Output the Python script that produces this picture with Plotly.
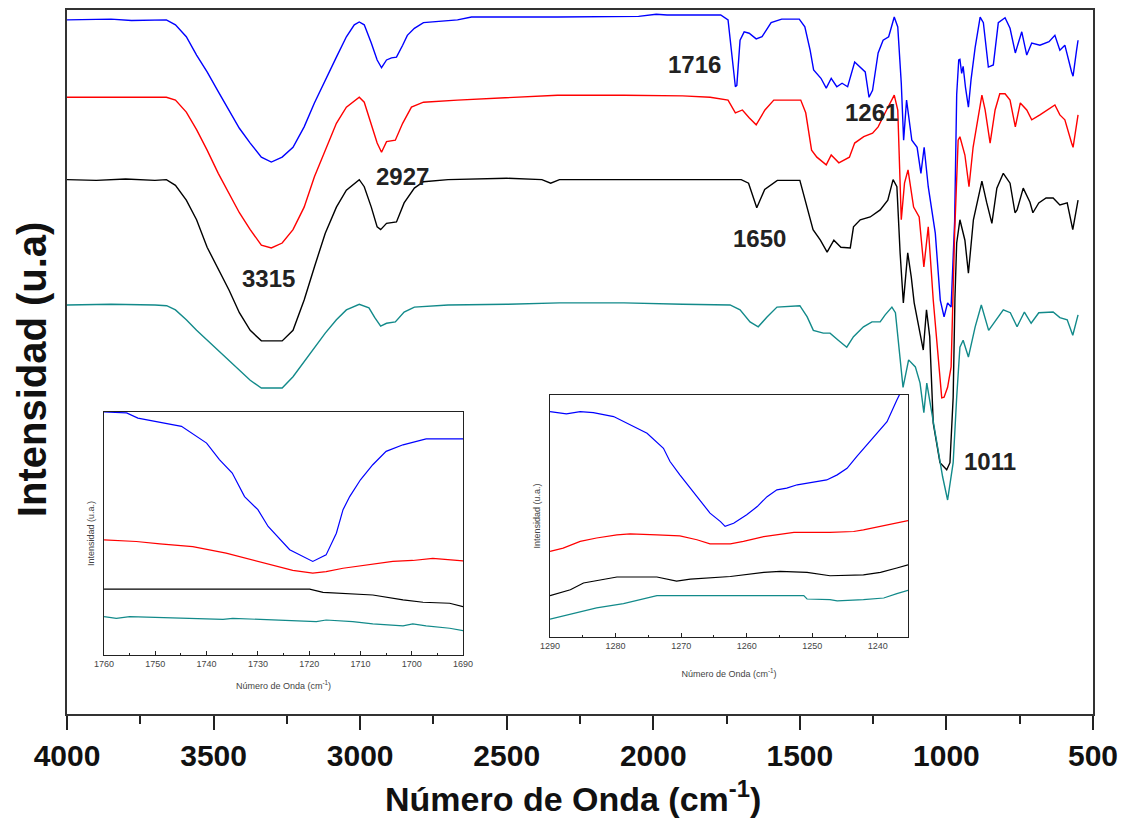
import plotly.graph_objects as go

# ---------------- main spectra (wavenumber, intensity a.u. incl. offset) ----------------
blue_x = [4000, 3900, 3850, 3780, 3700, 3661, 3630, 3593, 3558, 3522, 3484, 3447, 3412, 3375, 3337, 3303,
          3266, 3229, 3191, 3156, 3119, 3081, 3047, 3020, 3003, 2986, 2962, 2942, 2927, 2910, 2893, 2876,
          2855, 2839, 2815, 2784, 2668, 2620, 2327, 2200, 2050, 1990, 1953, 1850, 1770, 1745, 1733, 1720,
          1715, 1704, 1690, 1673, 1649, 1629, 1598, 1562, 1502, 1483, 1465, 1453, 1428, 1410, 1393, 1374,
          1356, 1337, 1313, 1294, 1277, 1264, 1252, 1233, 1216, 1197, 1178, 1166, 1154, 1146, 1136, 1118,
          1100, 1087, 1076, 1062, 1038, 1021, 1008, 996, 984, 972, 965, 958, 954, 948, 943, 935, 925, 916,
          902, 885, 874, 857, 840, 823, 800, 783, 765, 743, 726, 709, 681, 650, 630, 613, 596, 573, 568,
          556, 551]
blue_y = [98.6, 98.6, 98.7, 98.5, 98.6, 98.6, 97.9, 96.2, 93.6, 91.2, 88.4, 85.8, 83.2, 81.1, 79.1, 78.4,
          79.1, 80.5, 83.4, 86.8, 90.1, 93.3, 96.2, 97.9, 98.3, 97.9, 95.3, 92.9, 91.8, 92.9, 93.2, 93.3,
          95.0, 96.4, 97.4, 98.2, 98.6, 99.0, 99.0, 99.0, 99.1, 99.4, 99.3, 99.3, 99.3, 98.6, 94.3, 89.1,
          89.3, 95.7, 96.9, 96.7, 95.9, 96.2, 98.2, 98.7, 98.7, 97.6, 94.3, 91.5, 90.3, 88.9, 90.3, 89.1,
          89.6, 89.1, 92.6, 91.9, 91.2, 87.6, 88.6, 93.9, 95.7, 96.2, 99.0, 97.6, 89.6, 81.5, 87.2, 81.5,
          80.5, 76.8, 80.5, 74.9, 68.3, 58.8, 56.4, 58.4, 57.8, 70.0, 88.0, 92.9, 93.0, 91.0, 92.0, 89.0, 86.2, 90.1,
          94.7, 99.0, 98.2, 91.9, 92.2, 98.2, 98.9, 97.4, 93.9, 96.9, 93.6, 95.3, 95.0, 95.5, 96.4, 94.3, 95.0, 91.2, 90.6,
          94.3, 95.7]

red_x = [4000, 3850, 3700, 3661, 3630, 3593, 3558, 3522, 3484, 3447, 3412, 3375, 3337, 3303, 3266, 3229,
         3191, 3156, 3119, 3081, 3047, 3003, 2986, 2962, 2942, 2927, 2910, 2880, 2855, 2825, 2784, 2668,
         2500, 2327, 2100, 1900, 1806, 1745, 1720, 1696, 1673, 1649, 1619, 1589, 1497, 1480, 1460, 1442,
         1410, 1393, 1367, 1331, 1313, 1282, 1252, 1233, 1209, 1178, 1166, 1154, 1143, 1131, 1112, 1093,
         1077, 1062, 1045, 1026, 1016, 1008, 996, 984, 972, 960, 954, 937, 923, 909, 879, 868, 851, 834,
         818, 800, 783, 765, 748, 726, 709, 681, 630, 613, 596, 573, 568, 551]
red_y = [87.6, 87.6, 87.6, 87.6, 87.2, 85.5, 83.0, 80.1, 76.8, 74.0, 71.2, 68.8, 66.6, 66.2, 66.9, 68.8,
         72.0, 76.3, 80.1, 83.9, 86.2, 87.6, 86.9, 83.9, 81.1, 79.8, 81.3, 81.5, 83.9, 86.2, 86.9, 87.2,
         87.5, 87.9, 87.9, 87.8, 87.6, 87.2, 85.4, 85.8, 84.7, 83.7, 85.8, 87.2, 87.2, 85.4, 80.1, 79.1,
         78.0, 79.4, 78.3, 79.1, 81.1, 82.0, 82.5, 83.4, 85.4, 87.9, 85.8, 70.2, 75.4, 77.3, 72.0, 70.6,
         63.5, 69.2, 58.8, 49.3, 44.9, 45.0, 46.4, 49.3, 68.3, 81.5, 82.0, 79.4, 74.9, 80.5, 87.9, 85.8, 81.1, 85.8,
         88.1, 88.1, 87.2, 83.4, 86.8, 85.8, 84.4, 85.1, 86.5, 85.1, 84.4, 81.1, 80.5, 85.1]

black_x = [4000, 3900, 3800, 3700, 3661, 3630, 3593, 3558, 3522, 3484, 3447, 3412, 3375, 3337, 3266, 3229,
           3191, 3156, 3119, 3081, 3047, 3003, 2986, 2962, 2942, 2930, 2910, 2876, 2850, 2815, 2784, 2700,
           2500, 2380, 2350, 2320, 2100, 1900, 1700, 1675, 1647, 1620, 1577, 1500, 1475, 1455, 1430, 1407,
           1384, 1360, 1328, 1317, 1294, 1260, 1226, 1200, 1182, 1169, 1158, 1147, 1132, 1120, 1110, 1079,
           1068, 1057, 1045, 1022, 999, 988, 977, 971, 965, 954, 937, 925, 908, 879, 863, 845, 828, 806,
           783, 766, 759, 738, 715, 705, 685, 660, 636, 613, 588, 569, 551]
black_y = [75.9, 75.8, 76.0, 75.8, 75.9, 75.1, 73.0, 70.2, 66.3, 63.1, 60.2, 57.0, 54.5, 53.0, 53.0, 54.5,
           58.8, 63.5, 68.3, 72.0, 74.4, 75.9, 74.9, 72.0, 69.2, 68.8, 69.7, 69.9, 72.6, 74.7, 75.6, 75.9,
           76.1, 75.9, 75.4, 75.9, 75.9, 75.8, 75.9, 75.4, 71.9, 74.5, 75.8, 75.8, 72.0, 68.8, 67.3, 65.6,
           67.3, 66.3, 66.2, 69.2, 70.2, 70.6, 71.6, 73.0, 75.9, 74.9, 65.5, 58.4, 65.5, 62.1, 58.4, 51.7,
           57.4, 53.6, 41.3, 35.7, 34.7, 35.7, 45.0, 59.0, 66.9, 70.2, 67.3, 62.6, 70.2, 75.7, 72.7, 69.7, 74.7, 76.8,
           75.4, 71.2, 71.6, 74.7, 72.7, 71.2, 72.6, 73.3, 73.3, 72.3, 72.6, 68.8, 73.0]

teal_x = [4000, 3850, 3700, 3660, 3630, 3593, 3558, 3522, 3484, 3447, 3412, 3375, 3337, 3266, 3229, 3191,
          3156, 3119, 3081, 3047, 3003, 2970, 2950, 2930, 2910, 2880, 2850, 2815, 2700, 2500, 2320, 2100,
          1900, 1738, 1704, 1670, 1642, 1612, 1578, 1500, 1475, 1454, 1420, 1397, 1369, 1340, 1317, 1283,
          1254, 1226, 1209, 1186, 1174, 1163, 1148, 1129, 1106, 1090, 1077, 1067, 1052, 1035, 1013, 996,
          977, 965, 954, 943, 925, 902, 881, 856, 831, 806, 782, 759, 734, 711, 685, 636, 613, 588, 569, 551]
teal_y = [58.1, 58.2, 58.1, 58.0, 57.4, 56.0, 54.5, 53.1, 51.7, 50.3, 48.9, 47.4, 46.3, 46.3, 47.9, 50.0,
          52.1, 54.1, 56.0, 57.4, 58.2, 57.7, 56.3, 55.1, 55.5, 55.7, 57.1, 57.8, 58.1, 58.2, 58.4, 58.4,
          58.2, 58.1, 57.4, 55.7, 55.0, 56.4, 57.8, 58.0, 56.4, 54.5, 54.1, 54.1, 53.1, 52.1, 53.6, 55.0,
          55.7, 55.7, 56.7, 57.8, 57.0, 52.1, 46.4, 50.3, 49.3, 47.0, 42.8, 47.0, 43.2, 39.3, 33.7, 30.4,
          35.7, 45.0, 52.1, 53.1, 50.7, 55.0, 58.1, 54.5, 56.0, 57.4, 57.0, 55.0, 57.1, 55.5, 57.0, 57.1, 56.3, 56.0, 53.8, 56.7]

# ---------------- inset 1 (1760-1690 cm-1) ----------------
in1_blue_x = [1760, 1755.6, 1753.4, 1750.4, 1747.2, 1744.9, 1740, 1737.5, 1735, 1732.6, 1730, 1728, 1723.8,
              1719.3, 1716.7, 1714.7, 1713.4, 1712.1, 1710, 1707.6, 1705, 1701.7, 1697.2, 1690]
in1_blue_y = [100, 99.6, 97.5, 96.2, 94.8, 94.1, 87.2, 80.4, 74.9, 65.2, 59.8, 52.9, 43.3, 38.5, 41.2, 50.1,
              59.8, 65.2, 72.1, 78.3, 83.8, 86.5, 88.9, 88.9]
in1_red_x = [1760, 1753.7, 1749.1, 1742.7, 1736.2, 1729.7, 1723.2, 1719.3, 1716.7, 1713.4, 1706.9, 1703.7,
             1699.8, 1695.9, 1690]
in1_red_y = [47.4, 46.7, 45.7, 44.6, 41.9, 38.5, 34.8, 33.7, 34.3, 35.7, 37.5, 38.5, 38.9, 39.8, 38.7]
in1_black_x = [1760, 1719.9, 1717.3, 1707.6, 1701.7, 1697.8, 1692.6, 1690]
in1_black_y = [27.1, 27.1, 25.8, 24.7, 22.7, 21.7, 21.3, 19.9]
in1_teal_x = [1760, 1757.6, 1755, 1749.8, 1745.9, 1736.8, 1734.9, 1724.5, 1718.6, 1716.7, 1711.5, 1707.6,
              1701.7, 1699.8, 1697.2, 1692.6, 1690]
in1_teal_y = [15.8, 15.1, 15.8, 15.5, 15.0, 14.7, 15.1, 14.4, 13.7, 14.4, 13.7, 12.8, 12.0, 12.8, 12.0, 11.0, 10.0]

# ---------------- inset 2 (1290-1235 cm-1) ----------------
in2_blue_x = [1290, 1287.5, 1285.4, 1283.4, 1280.3, 1277.8, 1275.2, 1272.7, 1271.7, 1270.2, 1268.6, 1267.1,
              1265.6, 1264, 1263.3, 1262, 1260, 1258.4, 1256.9, 1255.4, 1253.9, 1252.3, 1250.8, 1249.3,
              1247.8, 1246.2, 1244.7, 1243.2, 1241.7, 1240.1, 1238.6, 1237.1, 1236.6]
in2_blue_y = [93.1, 92.2, 93.1, 92.7, 91.1, 87.6, 84.2, 78.0, 72.5, 67.0, 61.5, 56.7, 51.2, 47.7, 45.7, 47.0,
              50.5, 53.9, 58.0, 60.8, 61.5, 62.9, 63.5, 64.2, 64.9, 67.0, 69.7, 74.6, 79.4, 84.2, 89.0, 97.9, 100.7]
in2_red_x = [1290, 1288, 1285.4, 1282.9, 1279.8, 1277.8, 1273.7, 1270.2, 1267.6, 1265.6, 1262.5, 1260.5,
             1257.4, 1252.8, 1247.3, 1243.7, 1242.2, 1239.6, 1237.1, 1235.4]
in2_red_y = [35.4, 36.7, 39.5, 40.9, 42.2, 42.6, 42.2, 41.8, 40.2, 38.5, 38.5, 39.5, 41.5, 43.2, 43.2, 43.6,
             44.3, 45.7, 47.0, 48.1]
in2_black_x = [1290, 1286.9, 1284.9, 1282.9, 1279.8, 1273.7, 1271.7, 1270.7, 1268.6, 1262.5, 1257.4, 1254.9,
               1250.8, 1247.3, 1242.2, 1239.6, 1237.1, 1235.4]
in2_black_y = [17.1, 19.5, 22.3, 23.4, 24.8, 24.8, 23.7, 23.1, 23.9, 25.0, 26.7, 27.1, 26.7, 25.3, 25.7, 26.7,
               28.5, 29.8]
in2_teal_x = [1290, 1286.4, 1282.9, 1278.8, 1275.8, 1273.7, 1251.3, 1250.8, 1247.3, 1246.2, 1242.2, 1239.1,
              1237.1, 1235.4]
in2_teal_y = [7.4, 9.6, 12.0, 13.8, 15.7, 17.1, 17.1, 15.7, 15.4, 14.9, 15.4, 16.1, 17.9, 19.3]

# ---------------- peak labels ----------------
peak_labels = ["1716", "1261", "1650", "1011", "2927", "3315"]
peak_label_x = [1860, 1257, 1637, 851, 2856, 3313]
peak_label_y = [92.2, 85.5, 67.6, 35.8, 76.3, 61.9]

main_ticks = [4000, 3500, 3000, 2500, 2000, 1500, 1000, 500]

COLORS = {"blue": "#0000FF", "red": "#FF0000", "black": "#000000", "teal": "#128A8A"}
FONT = "Liberation Sans, Arial, sans-serif"

fig = go.Figure()
for xs, ys, c in [(blue_x, blue_y, "blue"), (red_x, red_y, "red"),
                  (black_x, black_y, "black"), (teal_x, teal_y, "teal")]:
    fig.add_trace(go.Scatter(x=xs, y=ys, mode="lines", line=dict(color=COLORS[c], width=1.4),
                             xaxis="x", yaxis="y", showlegend=False, hoverinfo="skip"))
for xs, ys, c in [(in1_blue_x, in1_blue_y, "blue"), (in1_red_x, in1_red_y, "red"),
                  (in1_black_x, in1_black_y, "black"), (in1_teal_x, in1_teal_y, "teal")]:
    fig.add_trace(go.Scatter(x=xs, y=ys, mode="lines", line=dict(color=COLORS[c], width=1.2),
                             xaxis="x2", yaxis="y2", showlegend=False, hoverinfo="skip"))
for xs, ys, c in [(in2_blue_x, in2_blue_y, "blue"), (in2_red_x, in2_red_y, "red"),
                  (in2_black_x, in2_black_y, "black"), (in2_teal_x, in2_teal_y, "teal")]:
    fig.add_trace(go.Scatter(x=xs, y=ys, mode="lines", line=dict(color=COLORS[c], width=1.2),
                             xaxis="x3", yaxis="y3", showlegend=False, hoverinfo="skip"))

for t, xv, yv in zip(peak_labels, peak_label_x, peak_label_y):
    fig.add_annotation(x=xv, y=yv, xref="x", yref="y", text=t, showarrow=False,
                       font=dict(family=FONT, size=24, color="#222222", weight="bold"))

fig.add_annotation(x=0.4935, y=-0.117, xref="paper", yref="paper", text="Número de Onda (cm<sup>-1</sup>)",
                   xanchor="center", yanchor="middle", showarrow=False, borderpad=0,
                   font=dict(family=FONT, size=34, color="#111111", weight="bold"))
fig.add_annotation(x=-0.034, y=0.49, xref="paper", yref="paper", text="Intensidad (u.a)", textangle=-90,
                   xanchor="center", yanchor="middle", showarrow=False,
                   font=dict(family=FONT, size=40, color="#111111", weight="bold"))

small = dict(family=FONT, size=9, color="#444444")
inset_x_common = dict(showline=True, mirror=True, linecolor="#222222", linewidth=1, ticks="inside",
                      ticklen=4, tickcolor="#222222", tickfont=small, showgrid=False, zeroline=False,
                      dtick=10, automargin=False,
                      minor=dict(ticks="inside", ticklen=2, dtick=5, tickcolor="#222222"))
inset_y_common = dict(showline=True, mirror=True, linecolor="#222222", linewidth=1, ticks="",
                      showticklabels=False, showgrid=False, zeroline=False, range=[0, 100], automargin=False,
                      title=dict(text="Intensidad (u.a.)", font=small, standoff=6))
inset_xtitle = "Número de Onda (cm<sup>-1</sup>)"

# the page body adds an 8 px offset at top-left, so the figure is 8 px smaller and margins shift
fig.update_layout(
    width=1118, height=812, plot_bgcolor="white", paper_bgcolor="white",
    margin=dict(l=59, r=33, t=2, b=106, autoexpand=False),
    xaxis=dict(range=[4000, 500], tickvals=main_ticks, ticks="outside", ticklen=14, tickwidth=1.5,
               tickcolor="#222222", showline=True, mirror=True, linecolor="#333333", linewidth=2,
               showgrid=False, zeroline=False, automargin=False,
               tickfont=dict(family=FONT, size=30, color="#111111", weight="bold"),
               minor=dict(ticks="outside", ticklen=8, tickwidth=1.5, dtick=250, tickcolor="#222222")),
    yaxis=dict(range=[0, 100], showline=True, mirror=True, linecolor="#333333", linewidth=2,
               ticks="", showticklabels=False, showgrid=False, zeroline=False, automargin=False),
    xaxis2=dict(domain=[0.0361, 0.386], anchor="y2", range=[1760, 1690],
                title=dict(text=inset_xtitle, font=small, standoff=14), **inset_x_common),
    yaxis2=dict(domain=[0.0838, 0.429], anchor="x2", **inset_y_common),
    xaxis3=dict(domain=[0.4708, 0.8197], anchor="y3", range=[1290, 1235.4],
                title=dict(text=inset_xtitle, font=small, standoff=20), **inset_x_common),
    yaxis3=dict(domain=[0.1094, 0.4531], anchor="x3", **inset_y_common),
)

fig.write_html("out.html")
